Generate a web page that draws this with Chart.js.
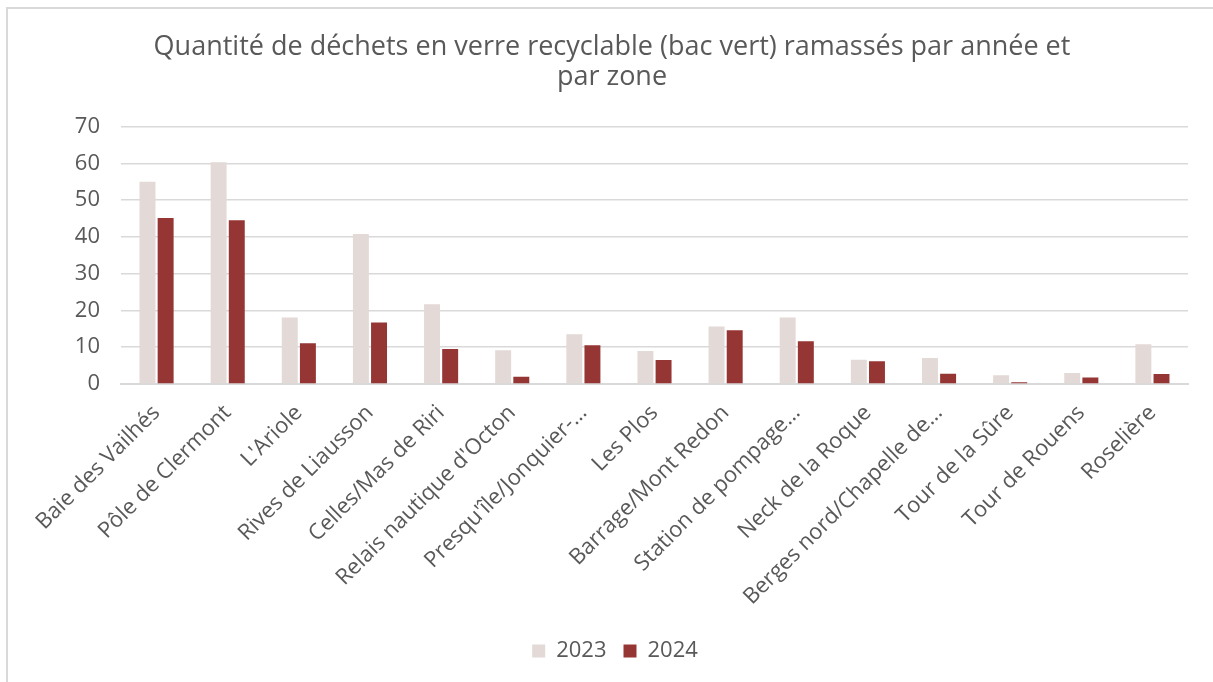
<!DOCTYPE html>
<html>
<head>
<meta charset="utf-8">
<script src="https://cdn.jsdelivr.net/npm/chart.js@4/dist/chart.umd.min.js"></script>
<style>
  html, body { margin: 0; padding: 0; background: #fff; }
  #wrap { position: relative; width: 1213px; height: 682px; overflow: hidden; }
  #frame { position: absolute; left: 6px; top: 7px; width: 1230px; height: 700px; border: 2px solid #d9d9d9; box-sizing: border-box; }
  canvas { position: absolute; left: 0; top: 0; }
</style>
</head>
<body>
<div id="wrap">
  <div id="frame"></div>
  <canvas id="chart" width="1213" height="682"></canvas>
</div>
<script>
// Zones de collecte
const zones = [
  'Baie des Vailhés',
  'Pôle de Clermont',
  "L'Ariole",
  'Rives de Liausson',
  'Celles/Mas de Riri',
  "Relais nautique d'Octon",
  "Presqu'île/Jonquier-…",
  'Les Plos',
  'Barrage/Mont Redon',
  'Station de pompage…',
  'Neck de la Roque',
  'Berges nord/Chapelle de…',
  'Tour de la Sûre',
  'Tour de Rouens',
  'Roselière',
];

// Quantités ramassées par année
const values2023 = [55, 60.3, 18.1, 40.8, 21.7, 9.2, 13.5, 9.0, 15.6, 18.1, 6.6, 7.1, 2.4, 3.0, 10.8];
const values2024 = [45.1, 44.5, 11.1, 16.7, 9.5, 2.0, 10.5, 6.5, 14.6, 11.6, 6.2, 2.8, 0.5, 1.8, 2.7];

const yTicks = [0, 10, 20, 30, 40, 50, 60, 70];

const titleLines = [
  'Quantité de déchets en verre recyclable (bac vert) ramassés par année et',
  'par zone',
];

const textColor = '#595959';
const gridColor = '#d9d9d9';
const fontFamily = "'Open Sans', 'Noto Sans', sans-serif";

// title and legend are centred on the whole frame, not on the plot area
const centerShift = {
  id: 'centerShift',
  afterLayout(chart) {
    chart.titleBlock.left += 18;
    chart.titleBlock.right += 18;
    chart.legend.left += 21;
    chart.legend.right += 21;
  },
};

new Chart(document.getElementById('chart'), {
  type: 'bar',
  data: {
    labels: zones,
    datasets: [
      {
        label: '2023',
        data: values2023,
        backgroundColor: '#e3d9d7',
        categoryPercentage: 0.51,
        barPercentage: 0.88,
      },
      {
        label: '2024',
        data: values2024,
        backgroundColor: '#963634',
        categoryPercentage: 0.51,
        barPercentage: 0.88,
      },
    ],
  },
  plugins: [centerShift],
  options: {
    responsive: false,
    animation: false,
    layout: { padding: { top: 20, right: 25, bottom: 10, left: 0 } },
    plugins: {
      title: {
        display: true,
        text: titleLines,
        color: textColor,
        font: { family: fontFamily, size: 27, weight: 'normal', lineHeight: 1.12 },
        padding: { top: 12, bottom: 34 },
      },
      legend: {
        position: 'bottom',
        labels: {
          color: textColor,
          font: { family: fontFamily, size: 22 },
          boxWidth: 13,
          boxHeight: 13,
          padding: 17,
        },
      },
      tooltip: { enabled: false },
    },
    scales: {
      x: {
        afterFit: (scale) => {
          scale.height = 239;
        },
        grid: { display: false, drawTicks: false },
        border: { display: true, color: gridColor, width: 2 },
        ticks: {
          color: textColor,
          font: { family: fontFamily, size: 22 },
          autoSkip: false,
          maxRotation: 45,
          minRotation: 45,
          padding: 16,
        },
      },
      y: {
        min: 0,
        max: 70,
        afterBuildTicks: (scale) => {
          scale.ticks = yTicks.map((v) => ({ value: v }));
        },
        afterFit: (scale) => {
          scale.width = 121;
        },
        grid: { color: gridColor, lineWidth: 1.5, drawTicks: false },
        border: { display: false },
        ticks: {
          color: textColor,
          font: { family: fontFamily, size: 22 },
          padding: 21,
        },
      },
    },
  },
});
</script>
</body>
</html>
